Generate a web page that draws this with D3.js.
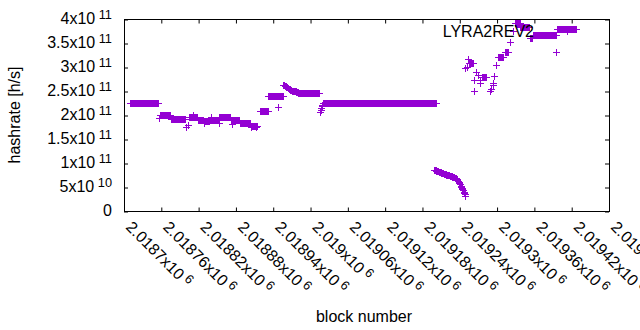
<!DOCTYPE html>
<html>
<head>
<meta charset="utf-8">
<script src="https://cdn.jsdelivr.net/npm/d3@7"></script>
<style>
  body { margin: 0; background: #fff; }
  svg { display: block; font-family: "Liberation Sans", Arial, sans-serif; }
</style>
</head>
<body>
<svg id="chart" width="640" height="330"></svg>
<script>
// Axis ticks, gnuplot style labels ("^" marks the exponent)
const yTicks = [0, 5e10, 1e11, 1.5e11, 2e11, 2.5e11, 3e11, 3.5e11, 4e11];
const yTickLabels = ["0", "5x10^10", "1x10^11", "1.5x10^11", "2x10^11", "2.5x10^11", "3x10^11", "3.5x10^11", "4x10^11"];
const xTicks = [2018700, 2018760, 2018820, 2018880, 2018940, 2019000, 2019060,
                2019120, 2019180, 2019240, 2019300, 2019360, 2019420, 2019480];
const xTickLabels = ["2.0187x10^6", "2.01876x10^6", "2.01882x10^6", "2.01888x10^6", "2.01894x10^6",
                     "2.019x10^6", "2.01906x10^6", "2.01912x10^6", "2.01918x10^6", "2.01924x10^6",
                     "2.0193x10^6", "2.01936x10^6", "2.01942x10^6", "2.01948x10^6"];

const seriesName = "LYRA2REV2";

// Flat stretches: [first block, last block, hashrate in GH/s], one point per block
const flatRuns = [
  [2018710, 2018755, 224], [2018758, 2018775, 201], [2018776, 2018799, 192],
  [2018805, 2018819, 195], [2018820, 2018828, 189], [2018829, 2018838, 187],
  [2018839, 2018853, 190], [2018854, 2018872, 195], [2018873, 2018886, 190],
  [2018887, 2018903, 184], [2018906, 2018915, 178], [2018919, 2018932, 208],
  [2018933, 2018956, 239], [2018983, 2019015, 245], [2019022, 2019202, 226],
  [2019256, 2019262, 309], [2019276, 2019283, 279], [2019302, 2019310, 320],
  [2019313, 2019318, 331], [2019329, 2019337, 391], [2019338, 2019352, 384],
  [2019353, 2019357, 360], [2019358, 2019395, 367], [2019397, 2019428, 379]
];

// Odd blocks off the flat stretches: [block, GH/s]
const outliers = [
  [2018757, 193], [2018801, 174], [2018803, 179], [2018811, 199], [2018830, 184],
  [2018841, 196], [2018853, 183], [2018875, 181], [2018905, 174], [2018913, 176],
  [2018949, 217]
];

// Decay after the jump near 2018957
const decayA = [
  [2018957, 263], [2018958, 262], [2018959, 261], [2018960, 260], [2018961, 259.5],
  [2018962, 258.5], [2018963, 257.5], [2018964, 257], [2018965, 256], [2018966, 255],
  [2018967, 254], [2018968, 253], [2018969, 252.5], [2018970, 252], [2018971, 251],
  [2018972, 250.5], [2018973, 250], [2018974, 249.5], [2018975, 249.5], [2018976, 249],
  [2018977, 249], [2018978, 248.5], [2018979, 248], [2018980, 247], [2018981, 246],
  [2018982, 245.5]
];

// Short climb before the long flat stretch
const climb = [
  [2019016, 206], [2019017, 210], [2019018, 214], [2019019, 218], [2019020, 221], [2019021, 224]
];

// Drop towards 3x10^10
const drop = [
  [2019199, 86], [2019200, 85.5], [2019201, 85], [2019202, 84.5], [2019203, 84],
  [2019204, 83.5], [2019205, 83], [2019206, 82.5], [2019207, 82], [2019208, 81.5],
  [2019209, 81], [2019210, 80.5], [2019211, 80], [2019212, 79.5], [2019213, 79],
  [2019214, 78.5], [2019215, 78], [2019216, 77.5], [2019217, 77], [2019218, 76.5],
  [2019219, 76], [2019220, 75.5], [2019221, 75.2], [2019222, 75], [2019223, 74.5],
  [2019224, 74], [2019225, 73.5], [2019226, 73], [2019227, 72.5], [2019228, 72],
  [2019229, 71.5], [2019230, 71], [2019231, 70.5], [2019232, 70], [2019233, 69],
  [2019234, 68], [2019235, 67], [2019236, 66], [2019237, 64.5], [2019238, 63],
  [2019239, 60.5], [2019240, 58], [2019241, 56], [2019242, 53], [2019243, 50],
  [2019244, 48], [2019245, 45.5], [2019246, 43], [2019247, 40], [2019248, 37],
  [2019249, 34.5], [2019250, 32]
];

// Scattered recovery blocks
const recovery = [
  [2019250, 297], [2019252, 301], [2019254, 316], [2019259, 308], [2019263, 249],
  [2019264, 273], [2019267, 290], [2019270, 283], [2019273, 273], [2019274, 266],
  [2019289, 249], [2019291, 254], [2019294, 262], [2019295, 266], [2019296, 281],
  [2019299, 304], [2019315, 332], [2019321, 353], [2019326, 374], [2019396, 332]
];

const color = '#9400d3';

const svg = d3.select('#chart');
const plotLeft = 124, plotRight = 609, plotTop = 19.5, plotBottom = 211.5;

const x = d3.scaleLinear().domain([2018700, 2019480]).range([plotLeft, plotRight]);
const y = d3.scaleLinear().domain([0, 4e11]).range([plotBottom, plotTop]);

// Expand runs to one point per block, then add the rest
const pts = [];
flatRuns.forEach(([b0, b1, v]) => {
  for (let b = b0; b <= b1; b++) pts.push([b, v]);
});
[outliers, decayA, climb, drop, recovery].forEach(arr => arr.forEach(d => pts.push(d)));

// Ticks (inward, mirrored on all four sides)
function tickAxis(axis, transform) {
  const g = svg.append('g').attr('transform', transform).call(axis);
  g.select('.domain').remove();
  g.selectAll('line').attr('stroke', '#000');
  g.selectAll('text').remove();
}
tickAxis(d3.axisBottom(x).tickValues(xTicks).tickSizeInner(-4).tickSizeOuter(0), `translate(0,${plotBottom})`);
tickAxis(d3.axisTop(x).tickValues(xTicks).tickSizeInner(-4).tickSizeOuter(0), `translate(0,${plotTop})`);
tickAxis(d3.axisLeft(y).tickValues(yTicks).tickSizeInner(-4).tickSizeOuter(0), `translate(${plotLeft},0)`);
tickAxis(d3.axisRight(y).tickValues(yTicks).tickSizeInner(-4).tickSizeOuter(0), `translate(${plotRight},0)`);

// Border
svg.append('rect')
  .attr('x', plotLeft).attr('y', plotTop)
  .attr('width', plotRight - plotLeft).attr('height', plotBottom - plotTop)
  .attr('fill', 'none').attr('stroke', '#000').attr('stroke-width', 1)
  .attr('shape-rendering', 'crispEdges');

// gnuplot enhanced text: base + superscript
function supText(sel, label) {
  const [base, exp] = label.split('^');
  sel.append('tspan').text(base);
  if (exp) sel.append('tspan').attr('font-size', 12.8).attr('dx', 3.5).attr('dy', -5).text(exp);
}

// Y tick labels
yTicks.forEach((v, i) => {
  const t = svg.append('text')
    .attr('x', 112).attr('y', y(v) + 4.5)
    .attr('text-anchor', 'end').attr('font-size', 16).attr('fill', '#000');
  supText(t, yTickLabels[i]);
});

// X tick labels, rotated (the last one runs off the page, as in the original)
xTicks.forEach((v, i) => {
  const t = svg.append('text')
    .attr('transform', `translate(${x(v) + 1},228) rotate(45)`)
    .attr('font-size', 16).attr('fill', '#000');
  supText(t, xTickLabels[i]);
});

// Axis titles
svg.append('text')
  .attr('transform', 'translate(20,115) rotate(-90)')
  .attr('text-anchor', 'middle').attr('font-size', 16)
  .text('hashrate [h/s]');
svg.append('text')
  .attr('x', 364).attr('y', 321.5)
  .attr('text-anchor', 'middle').attr('font-size', 16)
  .text('block number');

const plus = (cx, cy) => `M${cx - 3.5},${cy}h7M${cx},${cy - 3.5}v7`;

// Key sample
svg.append('path')
  .attr('d', plus(567.3, 31.5))
  .attr('stroke', color).attr('fill', 'none')
  .attr('shape-rendering', 'crispEdges');

// Data points
svg.append('g')
  .selectAll('path')
  .data(pts)
  .join('path')
  .attr('d', d => plus(x(d[0]), y(d[1] * 1e9)))
  .attr('stroke', color)
  .attr('stroke-width', 1)
  .attr('fill', 'none')
  .attr('shape-rendering', 'crispEdges');

// Key text
svg.append('text')
  .attr('x', 534).attr('y', 37.3)
  .attr('text-anchor', 'end').attr('font-size', 16)
  .text(seriesName);
</script>
</body>
</html>
